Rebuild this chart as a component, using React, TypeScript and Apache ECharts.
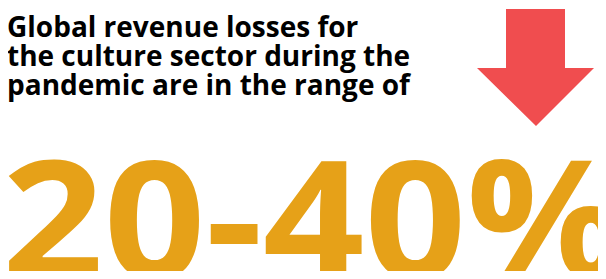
import React, { useEffect, useRef } from "react";
import * as echarts from "echarts";

const headlineLines = [
  "Global revenue losses for",
  "the culture sector during the",
  "pandemic are in the range of",
];
const rangeLow = 20;
const rangeHigh = 40;
const rangeUnit = "%";

export default function App() {
  const ref = useRef<HTMLDivElement>(null);
  useEffect(() => {
    if (!ref.current) return;
    const chart = echarts.init(ref.current, null, { renderer: "svg" });
    chart.setOption({
      animation: false,
      graphic: [
        {
          type: "text",
          x: 7,
          y: 11,
          style: {
            text: headlineLines.join("\n"),
            font: "bold 28px 'Open Sans'",
            lineHeight: 29,
            fill: "#000",
            verticalAlign: "top",
          },
        },
        {
          type: "polygon",
          shape: {
            points: [
              [506, 9],
              [565, 9],
              [565, 68],
              [594, 68],
              [536, 126],
              [477, 68],
              [506, 68],
            ],
          },
          style: { fill: "#F04D4F" },
        },
        {
          type: "text",
          x: 2,
          y: 296,
          scaleX: 1.085,
          style: {
            text: `${rangeLow}-${rangeHigh}${rangeUnit}`,
            font: "bold 164px 'Open Sans'",
            fill: "#E6A118",
            verticalAlign: "bottom",
          },
        },
      ],
    });
    return () => chart.dispose();
  }, []);
  return <div ref={ref} style={{ width: 606, height: 279, margin: -8 }} />;
}
